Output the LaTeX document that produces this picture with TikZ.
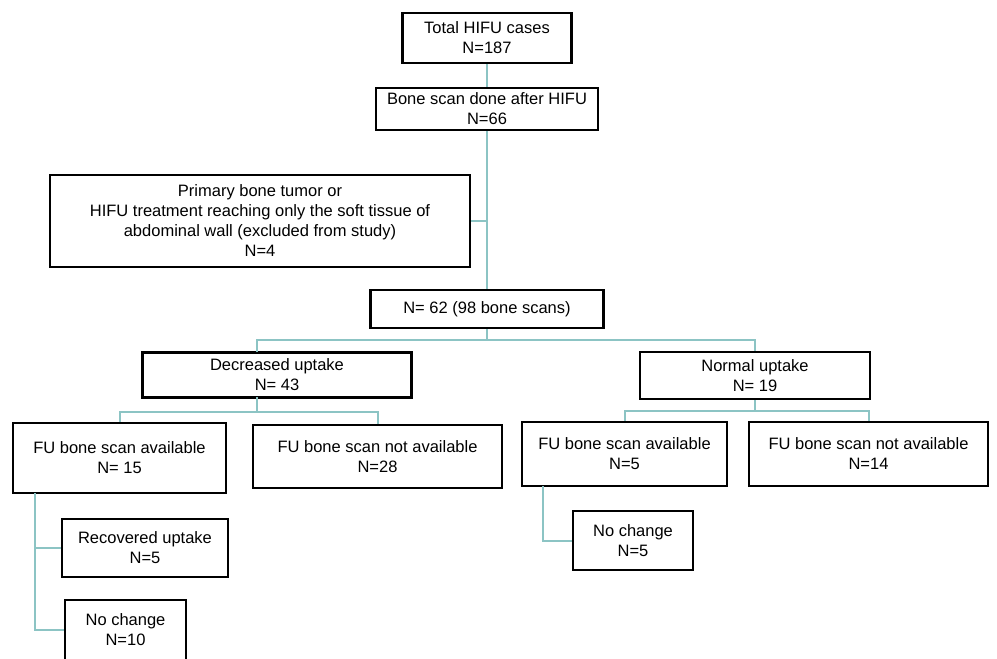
\documentclass[tikz,border=0pt]{standalone}
\usepackage{fontspec}
\setmainfont{Liberation Sans}
\definecolor{conncol}{RGB}{140,196,196}
\begin{document}
\begin{tikzpicture}[x=1pt,y=-1pt,
  box/.style={draw=black, line width=2.6pt, fill=white, inner sep=0pt, align=center,
    font=\fontsize{16.5}{20}\selectfont},
  conn/.style={draw=conncol, line width=2pt}]
\useasboundingbox (0,0) rectangle (997,659);

\node[box, minimum width=169pt, minimum height=50pt] (total) at (487,38) {Total HIFU cases\\N=187};
\node[box, minimum width=222pt, minimum height=42pt] (bone) at (487,109) {Bone scan done after HIFU\\N=66};
\node[box, minimum width=420pt, minimum height=92pt] (prim) at (260,221) {Primary bone tumor or\\HIFU treatment reaching only the soft tissue of\\abdominal wall (excluded from study)\\N=4};
\node[box, minimum width=233pt, minimum height=38pt] (n62) at (487,309) {N= 62 (98 bone scans)};
\node[box, minimum width=269pt, minimum height=45pt] (dec) at (277,375) {Decreased uptake\\N= 43};
\node[box, minimum width=230pt, minimum height=47pt] (norm) at (755,375.5) {Normal uptake\\N= 19};
\node[box, minimum width=213pt, minimum height=70pt] (favL) at (119.5,458) {FU bone scan available\\N= 15};
\node[box, minimum width=249pt, minimum height=63pt] (fnaL) at (377.5,456.5) {FU bone scan not available\\N=28};
\node[box, minimum width=205pt, minimum height=64pt] (favR) at (624.5,454) {FU bone scan available\\N=5};
\node[box, minimum width=239pt, minimum height=64pt] (fnaR) at (868.5,454) {FU bone scan not available\\N=14};
\node[box, minimum width=166pt, minimum height=58pt] (recL) at (145,548) {Recovered uptake\\N=5};
\node[box, minimum width=121pt, minimum height=60pt] (ncL) at (125.5,630) {No change\\N=10};
\node[box, minimum width=120pt, minimum height=59pt] (ncR) at (633,540.5) {No change\\N=5};

% junction coordinates
\coordinate (j62) at (487,340);
\coordinate (decin) at (257,352);
\coordinate (decout) at (257,397);
\coordinate (jdec) at (257,412);
\coordinate (jnorm) at (755,411);
\coordinate (favLout) at (35,493);
\coordinate (favRout) at (543,486);

% connectors
\draw[conn] (total.south) -- (bone.north);
\draw[conn] (bone.south) -- (n62.north);
\draw[conn] (prim.east) -- (prim.east -| bone.south);
\draw[conn] (n62.south) -- (j62);
\draw[conn] (decin) |- (j62) -| (norm.north);
\draw[conn] (decout) -- (jdec);
\draw[conn] (favL.north) |- (jdec) -| (fnaL.north);
\draw[conn] (norm.south) -- (jnorm);
\draw[conn] (favR.north) |- (jnorm) -| (fnaR.north);
\draw[conn] (favLout) |- (ncL.west);
\draw[conn] (favLout |- recL.west) -- (recL.west);
\draw[conn] (favRout) |- (ncR.west);
\end{tikzpicture}
\end{document}
